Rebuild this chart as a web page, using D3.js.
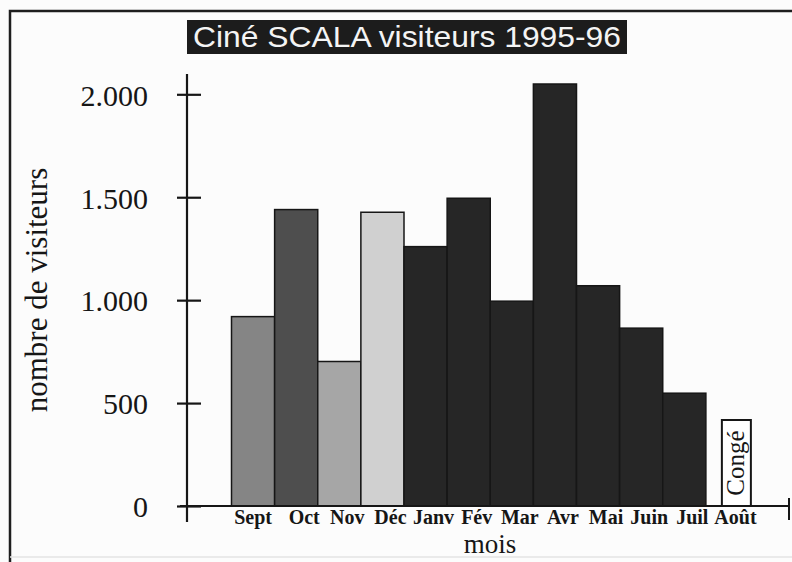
<!DOCTYPE html>
<html>
<head>
<meta charset="utf-8">
<script src="https://cdn.jsdelivr.net/npm/d3@7"></script>
<style>
  body { margin: 0; background: #fcfcfc; }
  svg { display: block; }
</style>
</head>
<body>
<div id="chart"></div>
<script>
const months = ["Sept", "Oct", "Nov", "Déc", "Janv", "Fév", "Mar", "Avr", "Mai", "Juin", "Juil", "Août"];
const visitors = [920, 1440, 702, 1427, 1260, 1495, 995, 2050, 1070, 864, 548, 0];
const shades = ["#858585", "#4e4e4e", "#a6a6a6", "#d0d0d0", "#262626", "#262626", "#262626", "#262626", "#262626", "#262626", "#262626", "#ffffff"];
const yTicks = [0, 500, 1000, 1500, 2000];
const closedLabel = "Congé";

const width = 792, height = 562;
const serif = "'Liberation Serif', 'Times New Roman', Times, serif";

const svg = d3.select("#chart").append("svg")
    .attr("width", width)
    .attr("height", height);

svg.append("rect")
    .attr("width", width).attr("height", height)
    .attr("fill", "#fcfcfc");

// frame of the scanned page
svg.append("path")
    .attr("d", "M10,562 V11 H792")
    .attr("fill", "none")
    .attr("stroke", "#1e1e1e")
    .attr("stroke-width", 2.5);
svg.append("line")
    .attr("x1", 10).attr("x2", 792).attr("y1", 557).attr("y2", 557)
    .attr("stroke", "#e4e4e4").attr("stroke-width", 1.5);

const x = d3.scaleBand()
    .domain(months)
    .range([231.5, 749])
    .padding(0);

const y = d3.scaleLinear()
    .domain([0, 2000])
    .range([506, 94.3]);

// title
const titleG = svg.append("g");
titleG.append("rect")
    .attr("x", 187).attr("y", 20)
    .attr("width", 440).attr("height", 34)
    .attr("fill", "#1c1c1c");
titleG.append("text")
    .attr("x", 407).attr("y", 47)
    .attr("text-anchor", "middle")
    .attr("fill", "#f4f4f4")
    .style("font-family", "'Liberation Sans Narrow', 'Arial Narrow', 'Liberation Sans', Arial, sans-serif")
    .style("font-size", "30px")
    .attr("textLength", 428)
    .attr("lengthAdjust", "spacingAndGlyphs")
    .text("Ciné SCALA visiteurs 1995-96");

// bars
svg.append("g")
    .selectAll("rect")
    .data(months.map((m, i) => ({month: m, value: visitors[i], fill: shades[i]})).filter(d => d.value > 0))
    .join("rect")
    .attr("x", d => x(d.month))
    .attr("y", d => y(d.value))
    .attr("width", x.bandwidth())
    .attr("height", d => y(0) - y(d.value))
    .attr("fill", d => d.fill)
    .attr("stroke", "#161616")
    .attr("stroke-width", 1.5);

// "Congé" box in August
const conge = svg.append("g")
    .attr("transform", "translate(" + (x("Août") + 16) + ",0)");
conge.append("rect")
    .attr("x", 0).attr("y", 420)
    .attr("width", 29).attr("height", 86)
    .attr("fill", "#ffffff")
    .attr("stroke", "#161616")
    .attr("stroke-width", 2);
conge.append("text")
    .attr("transform", "translate(22,463) rotate(-90)")
    .attr("text-anchor", "middle")
    .style("font-family", serif)
    .style("font-size", "25px")
    .attr("fill", "#161616")
    .text(closedLabel);

// y axis
const yAxis = svg.append("g")
    .attr("transform", "translate(187,0)")
    .call(d3.axisLeft(y).tickValues(yTicks).tickSize(0)
        .tickFormat(d => d3.format(",")(d).replace(",", ".")));
yAxis.select(".domain").remove();
yAxis.append("line")
    .attr("x1", 0).attr("x2", 0).attr("y1", 74).attr("y2", 522)
    .attr("stroke", "#161616").attr("stroke-width", 2.2);
yAxis.selectAll(".tick line")
    .attr("x1", -10).attr("x2", 14)
    .attr("stroke", "#161616").attr("stroke-width", 2.2);
yAxis.selectAll(".tick text")
    .attr("x", -39)
    .attr("dy", "0.36em")
    .attr("fill", "#161616")
    .style("font-family", serif)
    .style("font-size", "30px");

// x axis
const xAxis = svg.append("g")
    .attr("transform", "translate(0,506)")
    .call(d3.axisBottom(x).tickSize(0).tickPadding(0));
xAxis.select(".domain").remove();
xAxis.append("line")
    .attr("x1", 180).attr("x2", 790)
    .attr("stroke", "#161616").attr("stroke-width", 2.2);
xAxis.append("line")
    .attr("x1", 789).attr("x2", 789).attr("y1", -8).attr("y2", 14)
    .attr("stroke", "#161616").attr("stroke-width", 2);
xAxis.selectAll(".tick text")
    .attr("y", 18)
    .attr("dx", (d, i) => i === 0 ? 0 : 8)
    .attr("dy", 0)
    .attr("fill", "#161616")
    .style("font-family", serif)
    .style("font-size", "20px")
    .style("font-weight", "bold");

// axis titles
svg.append("text")
    .attr("x", 490).attr("y", 553)
    .attr("text-anchor", "middle")
    .attr("fill", "#161616")
    .style("font-family", serif)
    .style("font-size", "27px")
    .text("mois");

svg.append("text")
    .attr("transform", "translate(47,290) rotate(-90)")
    .attr("text-anchor", "middle")
    .attr("fill", "#161616")
    .style("font-family", serif)
    .style("font-size", "31px")
    .text("nombre de visiteurs");
</script>
</body>
</html>
